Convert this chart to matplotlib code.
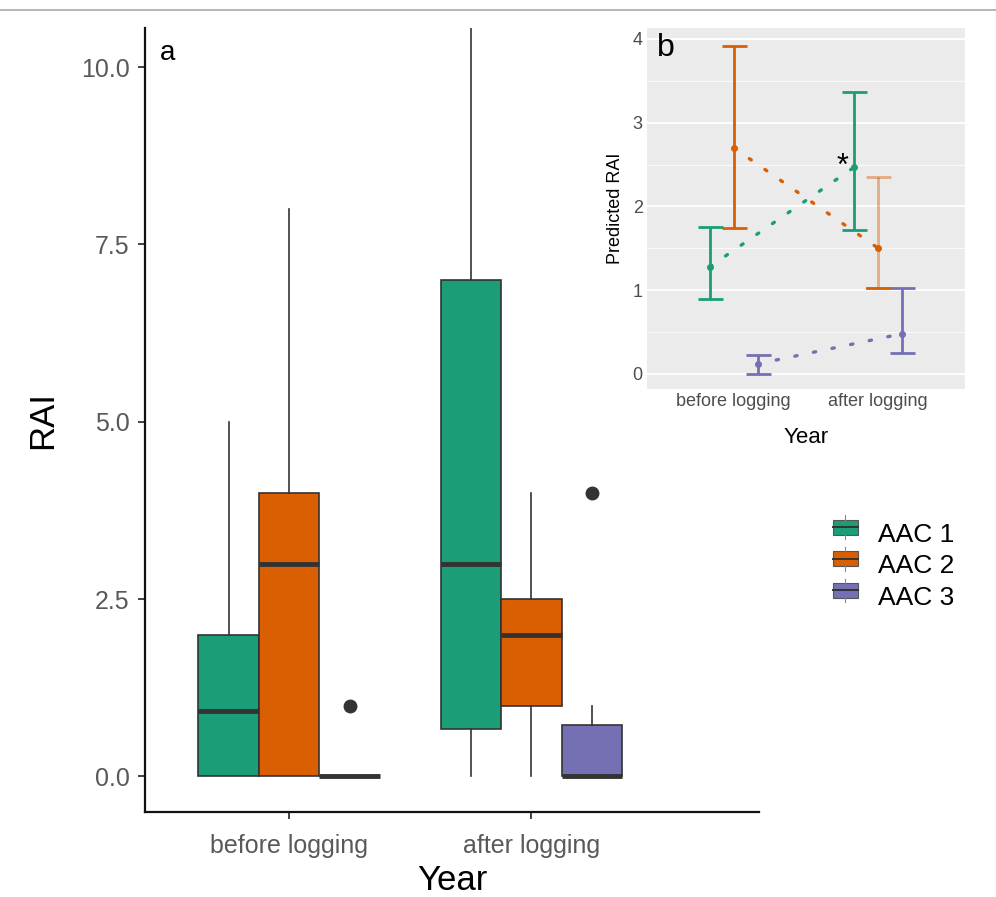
import matplotlib
matplotlib.use("Agg")
import matplotlib.pyplot as plt
from matplotlib.patches import Rectangle
from matplotlib.lines import Line2D

plt.rcParams["font.family"] = ["Liberation Sans", "DejaVu Sans"]

# panel a: boxplot summaries
periods = ["before logging", "after logging"]
groups = ["AAC 1", "AAC 2", "AAC 3"]
colors = ["#1B9E77", "#D95F02", "#7570B3"]

q1 = {"AAC 1": [0.0, 0.67], "AAC 2": [0.0, 1.0], "AAC 3": [0.0, 0.0]}
med = {"AAC 1": [0.93, 3.0], "AAC 2": [3.0, 2.0], "AAC 3": [0.0, 0.0]}
q3 = {"AAC 1": [2.0, 7.0], "AAC 2": [4.0, 2.5], "AAC 3": [0.0, 0.72]}
whis_lo = {"AAC 1": [0.0, 0.0], "AAC 2": [0.0, 0.0], "AAC 3": [0.0, 0.0]}
whis_hi = {"AAC 1": [5.0, 11.0], "AAC 2": [8.0, 4.0], "AAC 3": [0.0, 1.0]}
outliers = {"AAC 1": [[], []], "AAC 2": [[], []], "AAC 3": [[1.0], [4.0]]}

# panel b: predicted RAI with intervals
pred = {"AAC 1": [1.28, 2.47], "AAC 2": [2.70, 1.50], "AAC 3": [0.12, 0.48]}
pred_lo = {"AAC 1": [0.89, 1.72], "AAC 2": [1.74, 1.03], "AAC 3": [0.00, 0.25]}
pred_hi = {"AAC 1": [1.75, 3.36], "AAC 2": [3.92, 2.35], "AAC 3": [0.23, 1.03]}


class BoxKey:
    """legend key that looks like a small boxplot"""
    def __init__(self, color):
        self.color = color

    def legend_artist(self, legend, orig_handle, fontsize, handlebox):
        x0, y0 = handlebox.xdescent, handlebox.ydescent
        w, h = handlebox.width, handlebox.height
        tr = handlebox.get_transform()
        rect = Rectangle((x0, y0 + 0.18 * h), w, 0.64 * h, facecolor=self.color,
                         edgecolor="#555555", lw=0.8, transform=tr)
        handlebox.add_artist(rect)
        for a, b in [(0.0, 0.18), (0.82, 1.0)]:
            handlebox.add_artist(Line2D([x0 + w / 2] * 2, [y0 + a * h, y0 + b * h],
                                        color="#888888", lw=0.8, transform=tr))
        handlebox.add_artist(Line2D([x0, x0 + w], [y0 + h / 2] * 2,
                                    color="#333333", lw=1.4, transform=tr))
        return rect


fig = plt.figure(figsize=(9.96, 8.97), dpi=100)
fig.add_artist(Line2D([0, 1], [0.989, 0.989], color="#AAAAAA", lw=1.2,
                      transform=fig.transFigure))

# ---------- panel a ----------
ax = fig.add_axes([0.1456, 0.0948, 0.6165, 0.874])
offsets = [-0.25, 0.0, 0.25]
for k, g in enumerate(groups):
    stats, pos = [], []
    for i in range(len(periods)):
        stats.append(dict(med=med[g][i], q1=q1[g][i], q3=q3[g][i],
                          whislo=whis_lo[g][i], whishi=whis_hi[g][i],
                          fliers=outliers[g][i]))
        pos.append(i + 1 + offsets[k])
    ax.bxp(stats, positions=pos, widths=0.25, patch_artist=True,
           showcaps=False,
           boxprops=dict(facecolor=colors[k], edgecolor="#333333", lw=1.2),
           medianprops=dict(color="#333333", lw=3.5, solid_capstyle="butt"),
           whiskerprops=dict(color="#333333", lw=1.2),
           flierprops=dict(marker="o", markerfacecolor="#333333",
                           markeredgecolor="#333333", markersize=9))

ax.set_xlim(0.405, 2.94)
ax.set_ylim(-0.5, 10.55)
ax.set_xticks([1, 2])
ax.set_xticklabels(periods)
ax.set_yticks([0, 2.5, 5, 7.5, 10])
ax.set_yticklabels(["0.0", "2.5", "5.0", "7.5", "10.0"])
ax.tick_params(labelsize=18, labelcolor="#595959", color="#222222",
               width=1.2, length=5)
ax.tick_params(axis="y", pad=6)
ax.tick_params(axis="x", pad=11)
for s in ["top", "right"]:
    ax.spines[s].set_visible(False)
for s in ["left", "bottom"]:
    ax.spines[s].set_linewidth(1.6)
    ax.spines[s].set_color("#111111")
ax.set_ylabel("RAI", fontsize=25, labelpad=16)
ax.set_xlabel("Year", fontsize=25, labelpad=4)
ax.text(0.025, 0.985, "a", transform=ax.transAxes, fontsize=20,
        va="top", ha="left")

# legend
keys = [Rectangle((0, 0), 1, 1) for c in colors]
fig.legend(keys, groups, handler_map={keys[k]: BoxKey(c) for k, c in enumerate(colors)},
           loc="upper left", bbox_to_anchor=(0.823, 0.434), frameon=False,
           fontsize=19, handlelength=0.95, handleheight=1.0,
           labelspacing=0.22, handletextpad=0.75, borderpad=0)

# ---------- panel b ----------
bx = fig.add_axes([0.6496, 0.5663, 0.3193, 0.4025])
bx.set_facecolor("#EBEBEB")
dodge = [-0.165, 0.0, 0.165]
for k, g in enumerate(groups):
    xs = [i + 1 + dodge[k] for i in range(len(periods))]
    bx.plot(xs, pred[g], color=colors[k], ls=(0, (0.7, 5)), lw=2.4,
            dash_capstyle="round", zorder=3)
    for i, x in enumerate(xs):
        faded = (g == "AAC 2" and i == 1)
        bx.errorbar([x], [pred[g][i]],
                    yerr=[[pred[g][i] - pred_lo[g][i]],
                          [pred_hi[g][i] - pred[g][i]]],
                    fmt="none", ecolor=colors[k], elinewidth=2,
                    capsize=9, capthick=2, alpha=0.45 if faded else 1,
                    zorder=4)
        if faded:
            bx.plot([x - 0.08, x + 0.08], [pred_lo[g][i]] * 2,
                    color=colors[k], lw=2, zorder=5)
    bx.scatter(xs, pred[g], color=colors[k], s=16, zorder=6)

bx.text(2 + dodge[0] - 0.08, pred[groups[0]][1] + 0.0, "*", fontsize=22,
        ha="center", va="center")
bx.set_xlim(0.4, 2.6)
bx.set_ylim(-0.18, 4.13)
bx.set_xticks([1, 2])
bx.set_xticklabels(periods)
bx.set_yticks([0, 1, 2, 3, 4])
bx.set_yticks([0.5, 1.5, 2.5, 3.5], minor=True)
bx.grid(True, axis="y", which="major", color="white", lw=1.3)
bx.grid(True, axis="y", which="minor", color="white", lw=0.6)
bx.set_axisbelow(True)
bx.tick_params(which="both", length=0, labelsize=13, labelcolor="#4D4D4D",
               pad=3)
for s in bx.spines.values():
    s.set_visible(False)
bx.set_ylabel("Predicted RAI", fontsize=13, labelpad=6)
bx.set_xlabel("Year", fontsize=16, labelpad=12)
bx.text(0.03, 0.985, "b", transform=bx.transAxes, fontsize=23,
        va="top", ha="left")

fig.savefig("out.png", dpi=100)
